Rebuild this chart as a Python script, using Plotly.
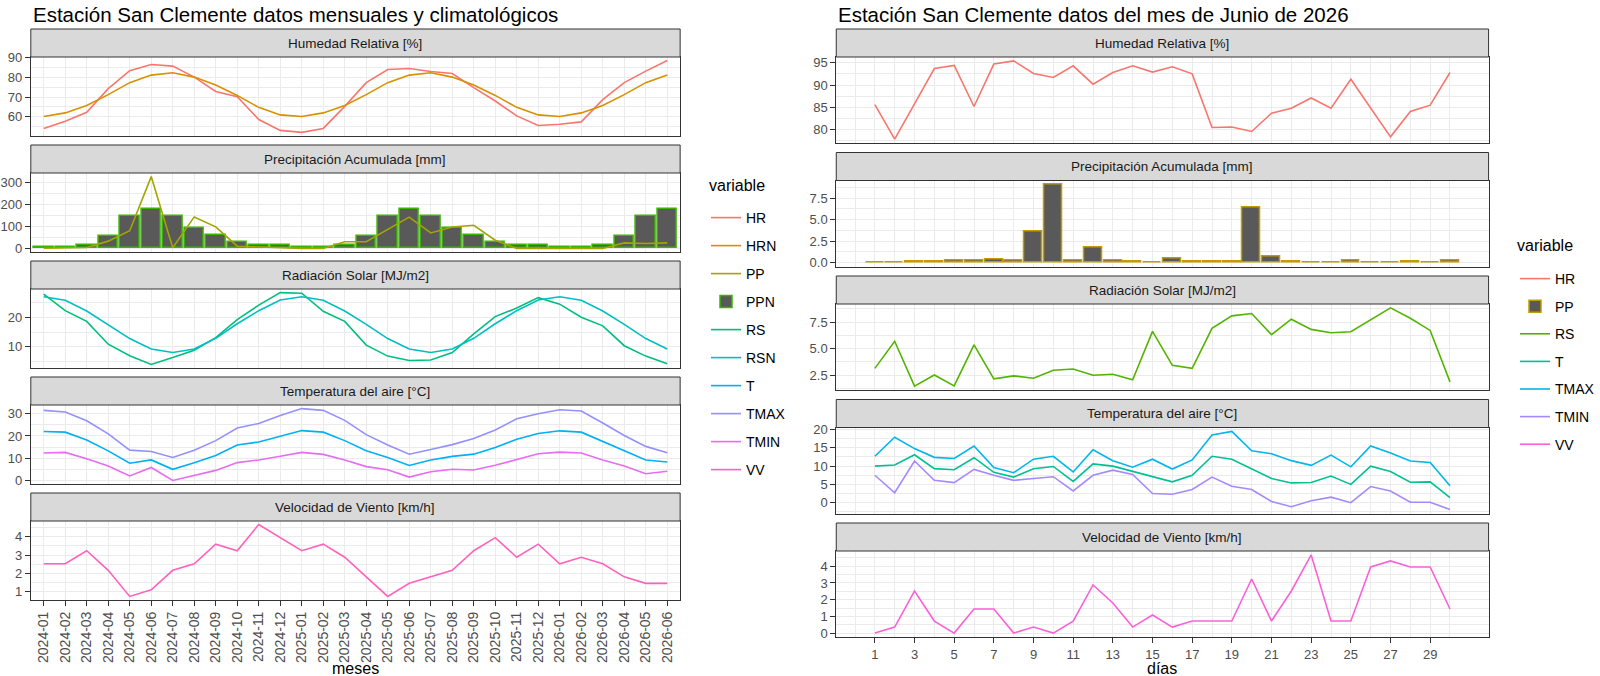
import plotly.graph_objects as go

# ---------------- datos mensuales y climatológicos ----------------
meses = ["2024-01", "2024-02", "2024-03", "2024-04", "2024-05", "2024-06",
         "2024-07", "2024-08", "2024-09", "2024-10", "2024-11", "2024-12",
         "2025-01", "2025-02", "2025-03", "2025-04", "2025-05", "2025-06",
         "2025-07", "2025-08", "2025-09", "2025-10", "2025-11", "2025-12",
         "2026-01", "2026-02", "2026-03", "2026-04", "2026-05", "2026-06"]
pos_meses = list(range(1, len(meses) + 1))

hr = [54.2, 57.8, 62.3, 74.2, 83.2, 86.3, 85.5, 80.0, 72.8, 70.2, 58.7, 53.2,
      52.2, 54.2, 65.3, 77.2, 83.8, 84.3, 82.8, 81.8, 74.7, 68.0, 60.5, 55.7,
      56.3, 57.5, 68.7, 77.2, 83.0, 88.3]
hrn = [60.2, 62.0, 65.7, 71.2, 77.2, 81.0, 82.2, 80.0, 76.0, 70.8, 64.8, 61.0,
       60.2, 62.0, 65.7, 71.2, 77.2, 81.0, 82.2, 80.0, 76.0, 70.8, 64.8, 61.0,
       60.2, 62.0, 65.7, 71.2, 77.2, 81.0]
pp = [1, 1, 4, 33, 80, 326, 3, 143, 98, 10, 6, 3,
      0, 0, 30, 30, 85, 142, 70, 97, 105, 37, 0, 0,
      0, 0, 0, 25, 22, 25]
ppn = [8, 8, 15, 55, 147, 177, 147, 93, 63, 30, 17, 16,
       8, 8, 15, 55, 147, 177, 147, 93, 63, 30, 17, 16,
       8, 8, 15, 55, 147, 177]
rs = [27.8, 22.2, 18.6, 10.9, 7.0, 4.1, 6.4, 8.9, 13.1, 19.2, 24.1, 28.3,
      28.1, 22.0, 18.6, 10.6, 6.9, 5.4, 5.6, 8.1, 14.4, 20.2, 23.1, 26.6,
      24.4, 20.0, 17.1, 10.4, 6.9, 4.3]
rsn = [26.9, 25.7, 22.1, 17.6, 12.8, 9.3, 8.1, 9.3, 12.9, 17.8, 22.2, 25.8,
       26.9, 25.7, 22.1, 17.6, 12.8, 9.3, 8.1, 9.3, 12.9, 17.8, 22.2, 25.8,
       26.9, 25.7, 22.1, 17.6, 12.8, 9.3]
t = [22.0, 21.7, 18.2, 13.3, 7.7, 9.2, 5.0, 7.9, 11.2, 15.9, 17.3, 20.0,
     22.4, 21.7, 17.9, 13.3, 10.3, 6.7, 9.2, 10.8, 11.8, 14.8, 18.5, 21.1,
     22.3, 21.7, 17.6, 13.3, 9.2, 8.3]
tmax = [31.5, 30.8, 26.8, 20.9, 13.6, 13.0, 10.3, 13.6, 17.9, 23.6, 25.6, 29.2,
        32.3, 31.5, 27.0, 20.6, 15.9, 11.8, 13.9, 16.1, 18.8, 22.7, 27.7, 30.0,
        31.8, 31.2, 25.8, 20.2, 15.3, 12.4]
tmin = [12.3, 12.6, 9.7, 6.5, 2.0, 5.8, 0.0, 2.4, 4.5, 8.0, 9.2, 10.9,
        12.6, 11.7, 9.2, 6.2, 4.8, 1.5, 3.9, 5.0, 4.7, 6.8, 9.5, 12.0,
        12.7, 12.3, 9.2, 6.5, 3.0, 4.1]
vv = [2.52, 2.52, 3.24, 2.16, 0.72, 1.08, 2.16, 2.52, 3.60, 3.24, 4.68, 3.96,
      3.24, 3.60, 2.88, 1.80, 0.72, 1.44, 1.80, 2.16, 3.24, 3.96, 2.88, 3.60,
      2.52, 2.88, 2.52, 1.80, 1.44, 1.44]

# ---------------- datos diarios, junio 2026 ----------------
dias = list(range(1, 31))
hr_dia = [85.6, 77.9, 85.8, 93.7, 94.4, 85.2, 94.7, 95.4, 92.6, 91.7,
          94.3, 90.2, 92.8, 94.3, 92.9, 94.1, 92.5, 80.5, 80.6, 79.6,
          83.7, 84.8, 87.1, 84.8, 91.3, 84.8, 78.4, 84.1, 85.5, 92.8]
pp_dia = [0.02, 0.02, 0.1, 0.1, 0.2, 0.2, 0.35, 0.2, 3.6, 9.1,
          0.2, 1.7, 0.2, 0.1, 0.02, 0.45, 0.1, 0.1, 0.1, 6.4,
          0.7, 0.1, 0.02, 0.02, 0.27, 0.02, 0.02, 0.1, 0.02, 0.27]
rs_dia = [3.15, 5.7, 1.48, 2.53, 1.5, 5.36, 2.16, 2.44, 2.22, 2.97,
          3.09, 2.5, 2.59, 2.07, 6.63, 3.43, 3.15, 6.91, 8.09, 8.31,
          6.32, 7.78, 6.82, 6.5, 6.6, 7.72, 8.84, 7.87, 6.72, 1.88]
t_dia = [10.0, 10.3, 13.1, 9.3, 9.0, 12.3, 8.3, 7.0, 9.3, 9.9,
         5.8, 10.6, 10.0, 8.6, 7.3, 5.7, 7.5, 12.7, 11.9, 9.2,
         6.6, 5.4, 5.5, 7.3, 5.0, 10.0, 8.5, 5.6, 5.7, 1.4]
tmax_dia = [12.7, 17.9, 14.8, 12.4, 12.1, 15.5, 9.6, 8.2, 11.9, 12.7,
            8.4, 14.5, 11.5, 9.7, 11.9, 9.2, 11.7, 18.5, 19.5, 14.2,
            13.4, 11.5, 10.2, 13.0, 9.8, 15.5, 13.6, 11.4, 11.0, 4.6]
tmin_dia = [7.5, 2.7, 11.4, 6.1, 5.5, 9.1, 7.5, 6.1, 6.6, 7.1,
            3.2, 7.5, 8.9, 7.7, 2.5, 2.3, 3.6, 7.0, 4.5, 3.6,
            0.3, -1.1, 0.5, 1.5, 0.0, 4.4, 3.2, 0.1, 0.1, -1.9]
vv_dia = [0, 0.36, 2.52, 0.72, 0, 1.44, 1.44, 0, 0.36, 0,
          0.72, 2.88, 1.8, 0.36, 1.08, 0.36, 0.72, 0.72, 0.72, 3.24,
          0.72, 2.52, 4.68, 0.72, 0.72, 3.96, 4.32, 3.96, 3.96, 1.44]

# ---------------- estilo (tipo theme_bw de ggplot) ----------------
W, H = 1600, 676
FUENTE = "Liberation Sans, Arial, sans-serif"
TXT_EJE = "#4D4D4D"
BORDE = "#333333"
GRID = "#EBEBEB"
GRIS_BARRA = "#595959"
LW = 1.6

# colores hue de ggplot
COL_IZQ = {"HR": "#F8766D", "HRN": "#D89000", "PP": "#A3A500", "PPN": "#39B600",
           "RS": "#00BF7D", "RSN": "#00BFC4", "T": "#00B0F6", "TMAX": "#9590FF",
           "TMIN": "#E76BF3", "VV": "#FF62BC"}
COL_DER = {"HR": "#F8766D", "PP": "#C49A00", "RS": "#53B400", "T": "#00C094",
           "TMAX": "#00B6EB", "TMIN": "#A58AFF", "VV": "#FB61D7"}


# coordenadas en px -> papel
def fx(p):
    return p / W


def fy(p):
    return 1 - p / H


def rango(*series, pad=0.05):
    vals = [v for s in series for v in s]
    lo, hi = min(vals), max(vals)
    d = (hi - lo) * pad
    return [lo - d, hi + d]


fig = go.Figure()
shapes = []
annotations = []


def ref(n):
    return "" if n == 1 else str(n)


# Crea un panel (faceta) con su franja de título
def panel(n, xpix, top, strip_h, panel_h, titulo, yrange, dtick, xcfg, fmt=None):
    y0, y1 = top + strip_h, top + strip_h + panel_h
    fig.layout[f"xaxis{ref(n)}"] = dict(
        domain=[fx(xpix[0]), fx(xpix[1])], anchor=f"y{ref(n)}",
        showline=True, mirror=True, linecolor=BORDE, linewidth=1,
        showgrid=True, gridcolor=GRID, gridwidth=1.1, zeroline=False,
        automargin=False, tickcolor=BORDE, ticklen=5, **xcfg)
    fig.layout[f"yaxis{ref(n)}"] = dict(
        domain=[fy(y1), fy(y0)], anchor=f"x{ref(n)}", range=yrange,
        tickmode="linear", tick0=0, dtick=dtick, tickformat=fmt,
        showline=True, mirror=True, linecolor=BORDE, linewidth=1,
        showgrid=True, gridcolor=GRID, gridwidth=1.1, zeroline=False,
        ticks="outside", ticklen=5, tickcolor=BORDE, automargin=False,
        tickfont=dict(size=13, color=TXT_EJE),
        minor=dict(dtick=dtick / 2, tick0=0, showgrid=True, gridcolor=GRID,
                   gridwidth=0.6, ticks=""))
    shapes.append(dict(type="rect", xref="paper", yref="paper",
                       x0=fx(xpix[0]), x1=fx(xpix[1]), y0=fy(y0), y1=fy(top),
                       fillcolor="#D9D9D9", line=dict(color=BORDE, width=1)))
    annotations.append(dict(text=titulo, xref="paper", yref="paper",
                            x=fx((xpix[0] + xpix[1]) / 2), y=fy(top + strip_h / 2),
                            showarrow=False, xanchor="center", yanchor="middle",
                            font=dict(size=13.5, color="#1A1A1A")))


def linea(n, x, y, nombre, color, leyenda):
    fig.add_trace(go.Scatter(x=x, y=y, mode="lines", name=nombre,
                             line=dict(color=color, width=LW),
                             xaxis=f"x{ref(n)}", yaxis=f"y{ref(n)}",
                             legend=leyenda, legendgroup=leyenda + nombre))


def barras(n, x, y, nombre, borde, leyenda):
    fig.add_trace(go.Bar(x=x, y=y, name=nombre, width=0.9,
                         marker=dict(color=GRIS_BARRA, line=dict(color=borde, width=1.5)),
                         xaxis=f"x{ref(n)}", yaxis=f"y{ref(n)}",
                         legend=leyenda, legendgroup=leyenda + nombre))


# ---------------- gráfico izquierdo: mensual ----------------
IZQ = (31, 684)
tops_izq = [29, 145, 261, 377, 493]
SH_I, PH_I = 28, 79


def x_izq(abajo):
    return dict(range=[0.4, 30.6], tickmode="array", tickvals=pos_meses,
                ticktext=meses, showticklabels=abajo, tickangle=-90,
                tickfont=dict(size=14, color=TXT_EJE),
                ticks="outside" if abajo else "")


panel(1, IZQ, tops_izq[0], SH_I, PH_I, "Humedad Relativa [%]", rango(hr, hrn), 10, x_izq(False))
panel(2, IZQ, tops_izq[1], SH_I, PH_I, "Precipitación Acumulada [mm]", rango(pp, ppn, [0]), 100, x_izq(False))
panel(3, IZQ, tops_izq[2], SH_I, PH_I, "Radiación Solar [MJ/m2]", rango(rs, rsn), 10, x_izq(False))
panel(4, IZQ, tops_izq[3], SH_I, PH_I, "Temperatura del aire [°C]", rango(t, tmax, tmin), 10, x_izq(False))
panel(5, IZQ, tops_izq[4], SH_I, PH_I, "Velocidad de Viento [km/h]", rango(vv), 1, x_izq(True))

linea(1, pos_meses, hr, "HR", COL_IZQ["HR"], "legend")
linea(1, pos_meses, hrn, "HRN", COL_IZQ["HRN"], "legend")
linea(2, pos_meses, pp, "PP", COL_IZQ["PP"], "legend")
barras(2, pos_meses, ppn, "PPN", COL_IZQ["PPN"], "legend")
linea(3, pos_meses, rs, "RS", COL_IZQ["RS"], "legend")
linea(3, pos_meses, rsn, "RSN", COL_IZQ["RSN"], "legend")
linea(4, pos_meses, t, "T", COL_IZQ["T"], "legend")
linea(4, pos_meses, tmax, "TMAX", COL_IZQ["TMAX"], "legend")
linea(4, pos_meses, tmin, "TMIN", COL_IZQ["TMIN"], "legend")
linea(5, pos_meses, vv, "VV", COL_IZQ["VV"], "legend")

# ---------------- gráfico derecho: diario ----------------
DER = (841, 1497)
tops_der = [29, 152.5, 276, 399.5, 523]
SH_D, PH_D = 28, 86
xr_der = rango([dias[0] - 0.45, dias[-1] + 0.45])
impares = dias[::2]
pares = [0] + dias[1::2]


def x_der(abajo):
    return dict(range=xr_der, tickmode="array", tickvals=impares,
                ticktext=[str(d) for d in impares], showticklabels=abajo,
                tickfont=dict(size=13, color=TXT_EJE),
                ticks="outside" if abajo else "",
                minor=dict(tickmode="array", tickvals=pares, showgrid=True,
                           gridcolor=GRID, gridwidth=0.6, ticks=""))


panel(6, DER, tops_der[0], SH_D, PH_D, "Humedad Relativa [%]", rango(hr_dia), 5, x_der(False))
panel(7, DER, tops_der[1], SH_D, PH_D, "Precipitación Acumulada [mm]", rango(pp_dia, [0]), 2.5, x_der(False), ".1f")
panel(8, DER, tops_der[2], SH_D, PH_D, "Radiación Solar [MJ/m2]", rango(rs_dia), 2.5, x_der(False), ".1f")
panel(9, DER, tops_der[3], SH_D, PH_D, "Temperatura del aire [°C]", rango(t_dia, tmax_dia, tmin_dia), 5, x_der(False))
panel(10, DER, tops_der[4], SH_D, PH_D, "Velocidad de Viento [km/h]", rango(vv_dia), 1, x_der(True))

linea(6, dias, hr_dia, "HR", COL_DER["HR"], "legend2")
barras(7, dias, pp_dia, "PP", COL_DER["PP"], "legend2")
linea(8, dias, rs_dia, "RS", COL_DER["RS"], "legend2")
linea(9, dias, t_dia, "T", COL_DER["T"], "legend2")
linea(9, dias, tmax_dia, "TMAX", COL_DER["TMAX"], "legend2")
linea(9, dias, tmin_dia, "TMIN", COL_DER["TMIN"], "legend2")
linea(10, dias, vv_dia, "VV", COL_DER["VV"], "legend2")

# títulos, nombres de ejes y títulos de leyenda
textos = [
    ("Estación San Clemente datos mensuales y climatológicos", IZQ[0], 1, "left", "top", 20.5),
    ("Estación San Clemente datos del mes de Junio de 2026", DER[0], 1, "left", "top", 20.5),
    ("meses", (IZQ[0] + IZQ[1]) / 2, 668, "center", "middle", 16),
    ("días", (DER[0] + DER[1]) / 2, 668, "center", "middle", 16),
    ("variable", 711, 185, "left", "middle", 16),
    ("variable", 1524, 245, "left", "middle", 16),
]
for txt, px_x, px_y, xa, ya, tam in textos:
    annotations.append(dict(text=txt, xref="paper", yref="paper", x=fx(px_x), y=fy(px_y),
                            xanchor=xa, yanchor=ya, showarrow=False,
                            font=dict(size=tam, color="black")))

leyenda = dict(font=dict(size=14, color="black"), bgcolor="rgba(0,0,0,0)",
               xanchor="left", yanchor="top", traceorder="grouped")

fig.update_layout(
    width=W, height=H, template="none",
    margin=dict(l=0, r=0, t=0, b=0),
    paper_bgcolor="white", plot_bgcolor="white",
    font=dict(family=FUENTE, color="black"),
    shapes=shapes, annotations=annotations,
    legend=dict(leyenda, x=fx(710), y=fy(202), tracegroupgap=6.8),
    legend2=dict(leyenda, x=fx(1524), y=fy(263), tracegroupgap=6.4),
    bargap=0,
)

# sin margen en el body para que la figura ocupe toda la ventana
fig.write_html("out.html", config={"displayModeBar": False},
               post_script="document.body.style.margin='0px';")
